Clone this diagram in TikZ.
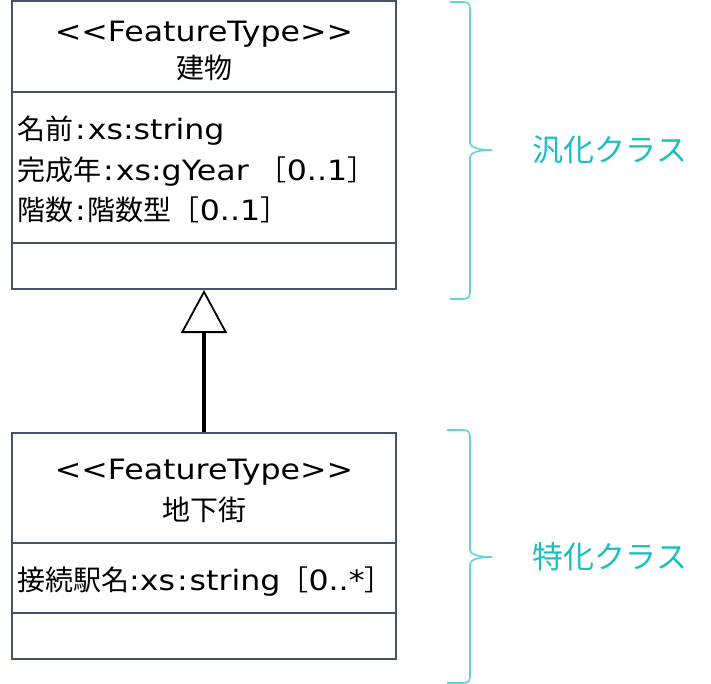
\documentclass[tikz,border=0pt]{standalone}
\usepackage{fontspec}
\setmainfont[FakeStretch=1.13]{DejaVu Sans}
\newfontfamily\jpfont{Noto Sans CJK JP}
\newcommand{\jtxt}[1]{{\jpfont #1}}
\usetikzlibrary{arrows.meta}
\definecolor{bord}{HTML}{44546A}
\definecolor{turq}{HTML}{1CBFBF}
\definecolor{turqclair}{HTML}{62D5D5}
\begin{document}
\begin{tikzpicture}[x=1pt,y=-1pt,
  classe/.style={draw=bord,line width=2pt,minimum width=384pt,inner sep=0pt},
  sep/.style={draw=bord,line width=2pt},
  txt/.style={inner sep=0pt,font=\fontsize{28}{32}\selectfont},
  acc/.style={draw=turqclair,line width=1.6pt},
  lbl/.style={text=turq,inner sep=0pt,font=\fontsize{31}{36}\selectfont\jpfont}]
\useasboundingbox (0,0) rectangle (711,684);
%classe generale
\node[classe,minimum height=288pt] (batiment) at (204,145) {};
\draw[sep] (12,92) -- (396,92);
\draw[sep] (12,243) -- (396,243);
\node[txt,anchor=base] (stereoA) at (204,42) {<\kern0pt<FeatureType>\kern0pt>};
\node[txt,anchor=base] (nomA) at (204,79) {\jtxt{建物}};
\node[txt,anchor=base west] (attA1) at (17,140) {\jtxt{名前}\kern2pt:\kern2pt xs:string};
\node[txt,anchor=base west] (attA2) at (17,181) {\jtxt{完成年}\kern2pt:\kern2pt xs:gYear \jtxt{［}0..1\jtxt{］}};
\node[txt,anchor=base west] (attA3) at (17,221) {\jtxt{階数}\kern2pt:\kern2pt\jtxt{階数型［}0..1\jtxt{］}};
%classe specialisee
\node[classe,minimum height=226pt] (galerie) at (204,546) {};
\draw[sep] (12,543) -- (396,543);
\draw[sep] (12,613) -- (396,613);
\node[txt,anchor=base] (stereoB) at (204,479) {<\kern0pt<FeatureType>\kern0pt>};
\node[txt,anchor=base] (nomB) at (204,520) {\jtxt{地下街}};
\node[txt,anchor=base west] (attB1) at (17,590) {\jtxt{接続駅名}:xs\kern2pt:\kern2pt string\jtxt{［}0..*\jtxt{］}};
%generalisation
\draw[line width=3.5pt,-{Triangle[open,length=43pt,width=46pt,line width=1.8pt]}] (galerie.north) -- (batiment.south);
%accolades
\draw[acc] (450,2) -- (463,2) .. controls (468,2) and (470,4) .. (470,9) -- (470,143) .. controls (470,147) and (478,150) .. (492,150) .. controls (478,150) and (470,153) .. (470,157) -- (470,292) .. controls (470,297) and (468,299) .. (463,299) -- (450,299);
\draw[acc] (447,430) -- (463,430) .. controls (468,430) and (470,432) .. (470,437) -- (470,550) .. controls (470,554) and (478,557) .. (492,557) .. controls (478,557) and (470,560) .. (470,564) -- (470,676) .. controls (470,681) and (468,683) .. (463,683) -- (447,683);
\node[lbl] (generalise) at (610,150) {汎化クラス};
\node[lbl] (specialise) at (610,557) {特化クラス};
\end{tikzpicture}
\end{document}
